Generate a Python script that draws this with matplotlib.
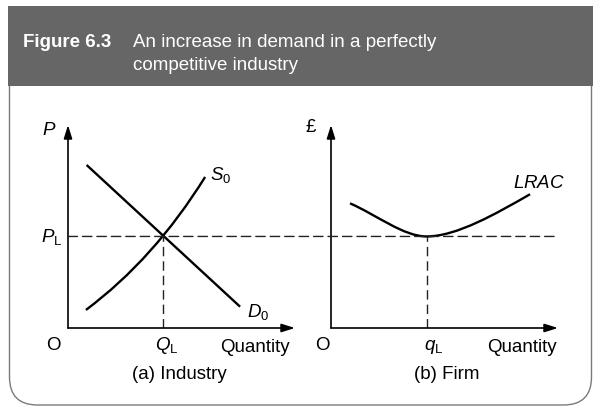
import matplotlib
matplotlib.use("Agg")
import matplotlib.pyplot as plt
from matplotlib.path import Path
from matplotlib.patches import PathPatch, FancyBboxPatch, Rectangle, ConnectionPatch

plt.rcParams["font.family"] = ["Liberation Sans", "DejaVu Sans"]
plt.rcParams["mathtext.fontset"] = "custom"
plt.rcParams["mathtext.rm"] = "Liberation Sans"
plt.rcParams["mathtext.it"] = "Liberation Sans:italic"

# ── Diagram data (both panels share 0..10 axes) ──────────────────────────────
P_L = 4.51          # long-run equilibrium price
Q_L = 4.19          # industry quantity
q_L = 4.21          # firm quantity

demand_q = [0.82, 7.58]
demand_p = [8.03, 1.05]

# supply: quadratic Bezier (start, control, end)
supply_q = [0.79, 3.80, 6.04]
supply_p = [0.89, 3.40, 7.44]

# LRAC: two cubic Bezier segments meeting at the minimum
lrac_q = [0.84, 2.01, 3.19, q_L, 5.54, 7.30, 8.77]
lrac_c = [6.14, 5.57, P_L, P_L, P_L, 5.65, 6.59]

FS = 13.5
W, H = 593, 411
fig = plt.figure(figsize=(W / 100, H / 100), dpi=100)

# ── Frame and header (pixel coordinates) ─────────────────────────────────────
bg = fig.add_axes([0, 0, 1, 1])
bg.set_xlim(0, W); bg.set_ylim(H, 0); bg.axis("off")
bg.add_patch(FancyBboxPatch((9.5, 40), 582, 365,
                            boxstyle="round,pad=0,rounding_size=28",
                            fc="white", ec="#7a7a7a", lw=1.0))
bg.add_patch(Rectangle((8, 6), W - 8, 80, fc="#666666", ec="none"))
bg.text(23, 47, "Figure 6.3", color="white", fontsize=FS, fontweight="bold",
        va="baseline")
bg.text(133, 47, "An increase in demand in a perfectly", color="white",
        fontsize=FS, va="baseline")
bg.text(133, 70, "competitive industry", color="white", fontsize=FS,
        va="baseline")

# ── Panels ───────────────────────────────────────────────────────────────────
bottom = (H - 328) / H
ax1 = fig.add_axes([68 / W, bottom, 227 / W, 203 / H])
ax2 = fig.add_axes([331 / W, bottom, 227 / W, 203 / H])

arrow = dict(arrowstyle="-|>,head_length=0.8,head_width=0.25", color="black",
             lw=1.2, shrinkA=0, shrinkB=0)
dash = (0, (6.8, 3.6))
for ax in (ax1, ax2):
    ax.set_xlim(0, 10); ax.set_ylim(0, 10)
    ax.axis("off")
    ax.patch.set_alpha(0)
    ax.annotate("", xy=(10, 0), xytext=(0, 0), arrowprops=arrow)
    ax.annotate("", xy=(0, 10), xytext=(0, 0), arrowprops=arrow)

# (a) Industry
ax1.plot(demand_q, demand_p, color="black", lw=1.7, solid_capstyle="butt")
sup = Path(list(zip(supply_q, supply_p)),
           [Path.MOVETO, Path.CURVE3, Path.CURVE3])
ax1.add_patch(PathPatch(sup, fill=False, ec="black", lw=1.7))
ax1.plot([Q_L, Q_L], [0, P_L], color="#222222", lw=1.0, ls=dash)

ax1.text(-0.84, 9.51, "$P$", fontsize=FS, ha="center", va="baseline")
ax1.text(-0.26, 4.24, r"$P_{\mathrm{L}}$", fontsize=FS, ha="right", va="baseline")
ax1.text(6.26, 7.29, r"$S_{\mathrm{0}}$", fontsize=FS, ha="left", va="baseline")
ax1.text(7.89, 0.54, r"$D_{\mathrm{0}}$", fontsize=FS, ha="left", va="baseline")
ax1.text(-0.66, -1.08, "O", fontsize=FS, ha="center", va="baseline")
ax1.text(Q_L + 0.15, -1.08, r"$Q_{\mathrm{L}}$", fontsize=FS, ha="center", va="baseline")
ax1.text(6.70, -1.18, "Quantity", fontsize=FS, ha="left", va="baseline")
ax1.text(4.89, -2.51, "(a) Industry", fontsize=FS, ha="center", va="baseline")

# (b) Firm
lrac = Path(list(zip(lrac_q, lrac_c)), [Path.MOVETO] + [Path.CURVE4] * 6)
ax2.add_patch(PathPatch(lrac, fill=False, ec="black", lw=1.7))
ax2.plot([q_L, q_L], [0, P_L], color="#222222", lw=1.0, ls=dash)

ax2.text(-0.88, 9.66, "£", fontsize=FS, ha="center", va="baseline")
ax2.text(8.02, 6.90, "$LRAC$", fontsize=FS, ha="left", va="baseline")
ax2.text(-0.37, -1.08, "O", fontsize=FS, ha="center", va="baseline")
ax2.text(q_L + 0.3, -1.08, r"$q_{\mathrm{L}}$", fontsize=FS, ha="center", va="baseline")
ax2.text(6.87, -1.18, "Quantity", fontsize=FS, ha="left", va="baseline")
ax2.text(5.11, -2.51, "(b) Firm", fontsize=FS, ha="center", va="baseline")

# price line running across both panels
fig.add_artist(ConnectionPatch(xyA=(0, P_L), coordsA=ax1.transData,
                               xyB=(10, P_L), coordsB=ax2.transData,
                               color="#222222", lw=1.0, ls=dash))

fig.savefig("out.png", dpi=100)
